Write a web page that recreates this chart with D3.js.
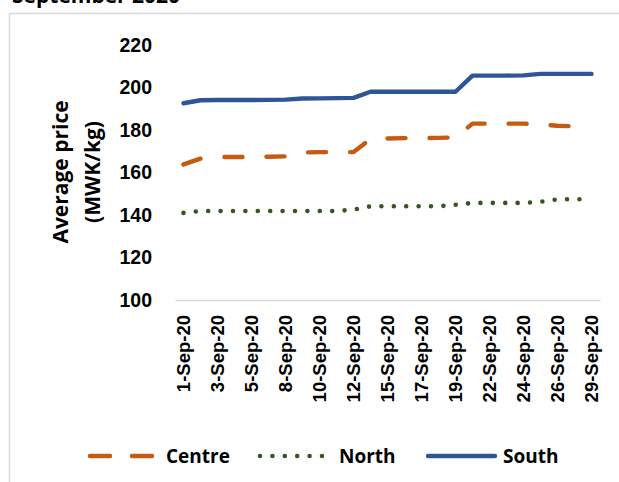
<!DOCTYPE html>
<html>
<head>
<meta charset="utf-8">
<script src="https://cdn.jsdelivr.net/npm/d3@7"></script>
<style>
  body { margin: 0; background: #fff; }
  svg { display: block; font-family: "Open Sans", Lato, sans-serif; font-weight: bold; }
</style>
</head>
<body>
<div id="chart"></div>
<script>
// Dates (Sundays excluded), labels shown on every other one
const dates = ["1-Sep-20", "2-Sep-20", "3-Sep-20", "4-Sep-20", "5-Sep-20", "7-Sep-20",
  "8-Sep-20", "9-Sep-20", "10-Sep-20", "11-Sep-20", "12-Sep-20", "14-Sep-20",
  "15-Sep-20", "16-Sep-20", "17-Sep-20", "18-Sep-20", "19-Sep-20", "21-Sep-20",
  "22-Sep-20", "23-Sep-20", "24-Sep-20", "25-Sep-20", "26-Sep-20", "28-Sep-20", "29-Sep-20"];

const centre = [163.8, 166.5, 167.3, 167.3, 167.3, 167.4, 167.6, 169.4, 169.6, 169.6, 169.6, 175.8,
  176.0, 176.2, 176.2, 176.3, 176.5, 183.0, 183.0, 183.0, 183.0, 182.6, 182.0, 181.7, 181.7];
const north = [141.0, 141.9, 141.9, 141.9, 141.9, 141.9, 141.9, 141.9, 141.9, 141.9, 142.5, 144.1,
  144.1, 144.1, 144.1, 144.1, 144.8, 145.7, 145.7, 145.7, 145.7, 146.2, 147.4, 147.4, 147.4];
const south = [192.6, 194.0, 194.1, 194.1, 194.1, 194.2, 194.3, 194.8, 194.9, 195.0, 195.1, 198.0,
  198.0, 198.0, 198.0, 198.0, 198.0, 205.6, 205.6, 205.6, 205.7, 206.4, 206.4, 206.4, 206.4];

const yTicks = [100, 120, 140, 160, 180, 200, 220];

const series = [
  { name: "Centre", values: centre, color: "#C55A11", dash: "18,24" },
  { name: "North", values: north, color: "#375623", dash: "0,12.4" },
  { name: "South", values: south, color: "#2F5597", dash: null }
];

const width = 619, height = 482;
const svg = d3.select("#chart").append("svg")
  .attr("width", width)
  .attr("height", height);

// chart frame
svg.append("rect")
  .attr("x", 9.5).attr("y", 13.5)
  .attr("width", 640).attr("height", 500)
  .attr("fill", "none")
  .attr("stroke", "#d9d9d9")
  .attr("stroke-width", 1.5);

// title, mostly cut off above the frame
svg.append("text")
  .attr("x", 12).attr("y", 3)
  .attr("font-size", "21px")
  .attr("fill", "#000")
  .text("September 2020");

const x = d3.scaleBand().domain(dates).range([175, 600]);
const y = d3.scaleLinear().domain([100, 220]).range([300, 45]);
const cx = (d) => x(d) + x.bandwidth() / 2;

// y axis labels
const yAxisG = svg.append("g")
  .attr("transform", "translate(175,0)")
  .call(d3.axisLeft(y).tickValues(yTicks).tickSize(0).tickPadding(23));
yAxisG.select(".domain").remove();
yAxisG.selectAll("text")
  .attr("font-size", "19.5px")
  .attr("font-family", null)
  .attr("fill", "#000");

// x axis
const xAxisG = svg.append("g")
  .attr("transform", "translate(0,300)")
  .call(d3.axisBottom(x)
    .tickValues(dates.filter((d, i) => i % 2 === 0))
    .tickSize(0)
    .tickSizeOuter(0));
xAxisG.select(".domain")
  .attr("stroke", "#d9d9d9")
  .attr("stroke-width", 1.5);
xAxisG.selectAll("text")
  .attr("font-size", "18.5px")
  .attr("font-family", null)
  .attr("fill", "#000")
  .attr("transform", "rotate(-90)")
  .attr("text-anchor", "end")
  .attr("x", -15)
  .attr("y", 0)
  .attr("dy", "0.36em");

// y axis title
const yTitle = svg.append("text")
  .attr("transform", "translate(0,172) rotate(-90)")
  .attr("text-anchor", "middle")
  .attr("font-size", "21px")
  .attr("fill", "#000");
yTitle.append("tspan").attr("x", 0).attr("y", 68).text("Average price");
yTitle.append("tspan").attr("x", 0).attr("y", 100).text("(MWK/kg)");

// lines
const line = d3.line()
  .x((d, i) => cx(dates[i]))
  .y((d) => y(d));

svg.append("g").attr("class", "lines")
  .selectAll("path")
  .data(series)
  .join("path")
  .attr("d", (d) => line(d.values))
  .attr("fill", "none")
  .attr("stroke", (d) => d.color)
  .attr("stroke-width", (d) => d.name === "North" ? 4.6 : 4.4)
  .attr("stroke-linecap", "round")
  .attr("stroke-linejoin", "round")
  .attr("stroke-dasharray", (d) => d.dash);

// legend
const legendY = 456;
const legendItems = [
  { s: series[0], x1: 90, x2: 152, tx: 166 },
  { s: series[1], x1: 260, x2: 326, tx: 339 },
  { s: series[2], x1: 428, x2: 495, tx: 503 }
];
const lg = svg.append("g").attr("class", "legend")
  .selectAll("g")
  .data(legendItems)
  .join("g");
lg.append("line")
  .attr("x1", (d) => d.x1).attr("x2", (d) => d.x2)
  .attr("y1", legendY).attr("y2", legendY)
  .attr("stroke", (d) => d.s.color)
  .attr("stroke-width", (d) => d.s.name === "North" ? 4.6 : 4.4)
  .attr("stroke-linecap", "round")
  .attr("stroke-dasharray", (d) => d.s.name === "Centre" ? "20,22" : d.s.dash);
lg.append("text")
  .attr("x", (d) => d.tx)
  .attr("y", legendY + 6.5)
  .attr("font-size", "19px")
  .attr("fill", "#000")
  .text((d) => d.s.name);
</script>
</body>
</html>
